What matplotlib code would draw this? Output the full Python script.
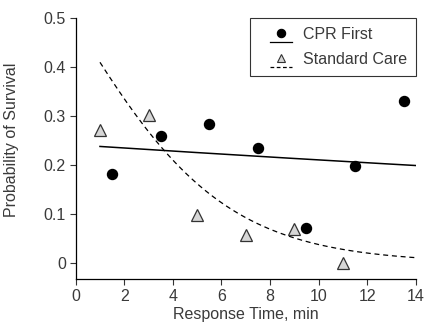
import numpy as np
import matplotlib
matplotlib.use("Agg")
import matplotlib.pyplot as plt
from matplotlib.legend_handler import HandlerBase
from matplotlib.lines import Line2D

# Data
cpr_x = [1.5, 3.5, 5.5, 7.5, 9.5, 11.5, 13.5]
cpr_y = [0.182, 0.260, 0.284, 0.234, 0.072, 0.199, 0.331]
std_x = [1, 3, 5, 7, 9, 11]
std_y = [0.271, 0.302, 0.098, 0.058, 0.070, 0.0]

# Fitted logistic model coefficients (logit(p) = a + b*x)
cpr_fit = (-1.146, -0.0176)
std_fit = (-0.044, -0.320)
fit_range = (1.0, 14.0)

xticks = [0, 2, 4, 6, 8, 10, 12, 14]
yticks = [0, 0.1, 0.2, 0.3, 0.4, 0.5]
ytick_labels = ["0", "0.1", "0.2", "0.3", "0.4", "0.5"]

plt.rcParams['font.family'] = ['Liberation Sans', 'DejaVu Sans']
txt = '#3a3a3a'
fs = 11.5

fig = plt.figure(figsize=(4.30, 3.26), dpi=100)
ax = fig.add_axes([0.176, 0.144, 0.791, 0.800])

xs = np.linspace(fit_range[0], fit_range[1], 200)
def logistic(a, b, x):
    return 1.0 / (1.0 + np.exp(-(a + b * x)))

ax.plot(xs, logistic(*cpr_fit, xs), color='black', lw=1.1, zorder=2)
ax.plot(xs, logistic(*std_fit, xs), color='black', lw=0.9, ls=(0, (4, 3)), zorder=2)
ax.plot(std_x, std_y, ls='none', marker='^', ms=8, mfc='#d6d6d6', mec='#333333', mew=0.9, zorder=3)
ax.plot(cpr_x, cpr_y, ls='none', marker='o', ms=7.2, mfc='black', mec='black', zorder=4)

ax.set_xlim(0, 14)
ax.set_ylim(-0.033, 0.5)
ax.set_xticks(xticks)
ax.set_yticks(yticks)
ax.set_yticklabels(ytick_labels)
for s in ['top', 'right']:
    ax.spines[s].set_visible(False)
for s in ['left', 'bottom']:
    ax.spines[s].set_linewidth(0.9)
    ax.spines[s].set_color('black')
ax.tick_params(direction='out', length=4, width=0.8, color='#333333',
               labelsize=fs, labelcolor=txt, pad=3)
ax.set_xlabel('Response Time, min', fontsize=fs, color=txt, labelpad=2)
ax.set_ylabel('Probability of Survival', fontsize=fs, color=txt)
ax.yaxis.set_label_coords(-0.168, 0.533)


class MarkerOverLine(HandlerBase):
    def __init__(self, marker, mfc, mec, ms, ls):
        super().__init__()
        self.marker, self.mfc, self.mec, self.ms, self.ls = marker, mfc, mec, ms, ls

    def create_artists(self, legend, orig_handle, xdescent, ydescent, width, height, fontsize, trans):
        x0 = -xdescent + 0.30 * width
        x1 = -xdescent + 0.92 * width
        y_mid = -ydescent + 0.5 * height
        y_line = y_mid - 6.5
        line = Line2D([x0, x1], [y_line, y_line], color='black',
                      lw=0.9, ls=self.ls, transform=trans)
        mk = Line2D([(x0 + x1) / 2], [y_mid], ls='none',
                    marker=self.marker, mfc=self.mfc, mec=self.mec, ms=self.ms,
                    mew=0.8, transform=trans)
        return [line, mk]


h1 = Line2D([], [])
h2 = Line2D([], [])
leg = ax.legend([h1, h2], ['CPR First', 'Standard Care'],
                handler_map={h1: MarkerOverLine('o', 'black', 'black', 6, '-'),
                             h2: MarkerOverLine('^', '#d6d6d6', '#333333', 6, (0, (3, 2)))},
                loc='upper right', bbox_to_anchor=(1.0, 1.0), borderaxespad=0,
                fontsize=fs, frameon=True, fancybox=False, handlelength=2.25,
                handletextpad=0.5, borderpad=0.55, labelspacing=0.62)
leg.get_frame().set_edgecolor('black')
leg.get_frame().set_linewidth(0.8)
for t in leg.get_texts():
    t.set_color(txt)

fig.savefig('out.png', dpi=100)
